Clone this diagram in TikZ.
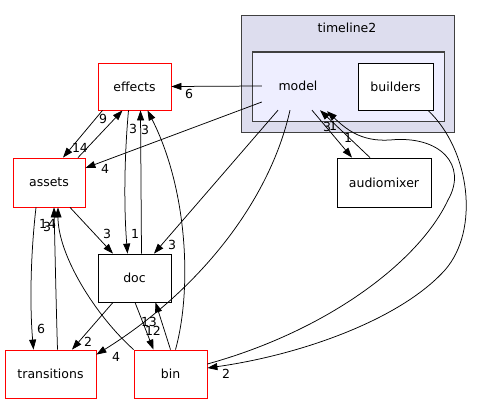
\documentclass[tikz,border=0pt]{standalone}
\usepackage{fontspec}
\setmainfont{DejaVu Sans}
\usetikzlibrary{arrows.meta}
\definecolor{clfill}{RGB}{221,221,238}
\definecolor{mdfill}{RGB}{238,238,255}
\definecolor{cldraw}{RGB}{64,64,64}
\begin{document}
\begin{tikzpicture}[x=1pt,y=-1pt,
  txt/.style={font=\fontsize{12.5}{14}\selectfont},
  box/.style={txt, draw=black, fill=white, line width=0.8pt, minimum width=73pt, minimum height=48pt, inner sep=0pt},
  redbox/.style={box, draw=red},
  cluster/.style={draw=cldraw, line width=1pt, inner sep=0pt},
  lbl/.style={txt, inner sep=0pt},
  edge/.style={line width=0.75pt, -{Triangle[length=10pt,width=7pt]}},
]
\useasboundingbox (0,0) rectangle (481,404);
% clusters
\node[cluster, fill=clfill, minimum width=213pt, minimum height=116pt] (tl2) at (347.5,74) {};
\node[txt, anchor=center] (tl2lbl) at (347,28) {timeline2};
\node[cluster, fill=mdfill, minimum width=192pt, minimum height=69pt] (modelc) at (348,86.5) {};
\node[txt, minimum width=72pt, minimum height=48pt, inner sep=0pt] (model) at (298,86) {model};
\node[box, minimum width=75pt, minimum height=47pt] (builders) at (395.5,86.5) {builders};
% nodes
\node[redbox, minimum height=47pt] (effects) at (134.5,86.5) {effects};
\node[redbox, minimum width=72pt, minimum height=49pt] (assets) at (49,182.5) {assets};
\node[box] (doc) at (134.5,278) {doc};
\node[redbox, minimum width=91pt] (transitions) at (50.5,374) {transitions};
\node[redbox] (bin) at (170.5,374) {bin};
\node[box, minimum width=94pt, minimum height=49pt] (audiomixer) at (384,182.5) {audiomixer};
% edges from model
\draw[edge] (model.west) -- (effects.east);
\draw[edge] ([yshift=-16pt]model.west) -- ([yshift=14.5pt]assets.east);
\draw[edge] ([xshift=-20pt]model.south) -- ([xshift=19.5pt]doc.north);
\draw[edge] ([xshift=-8pt]model.south) .. controls (270,200) and (200,290) .. ([yshift=-5pt]transitions.north east);
\draw[edge] ([xshift=14pt]model.south) -- ([xshift=-32pt]audiomixer.north);
\draw[edge] ([xshift=-14pt]audiomixer.north) -- ([xshift=22pt]model.south);
\draw[edge] ([yshift=10pt]bin.east) .. controls (330,330) and (420,260) .. (448,200)
   .. controls (468,165) and (440,135) .. (390,140)
   .. controls (360,142) and (345,128) .. ([xshift=29pt,yshift=-1pt]model.south);
\draw[edge] ([xshift=32.5pt]builders.south) .. controls (470,150) and (480,230) .. (445,270)
   .. controls (400,320) and (300,355) .. ([yshift=6pt]bin.east);
% effects / assets
\draw[edge] ([xshift=-32pt]effects.south) -- ([xshift=14pt]assets.north);
\draw[edge] ([xshift=29pt]assets.north) -- ([xshift=-12pt]effects.south);
\draw[edge] ([xshift=-6pt]effects.south) .. controls (124,160) and (124,210) .. ([xshift=-7pt]doc.north);
\draw[edge] ([xshift=7pt]doc.north) -- ([xshift=6pt]effects.south);
\draw[edge] ([xshift=5pt]bin.north) .. controls (192,290) and (188,190) .. ([xshift=13pt]effects.south);
\draw[edge] ([xshift=21pt]assets.south) -- ([xshift=-21.5pt]doc.north);
\draw[edge] ([xshift=-13pt]assets.south) .. controls (30,260) and (30,310) .. ([xshift=-17pt]transitions.north);
\draw[edge] ([xshift=7pt]transitions.north) .. controls (56,300) and (55,250) .. ([xshift=5pt]assets.south);
\draw[edge] (bin.north west) .. controls (95,315) and (58,255) .. ([xshift=9pt]assets.south);
\draw[edge] ([xshift=-21.5pt]doc.south) -- ([xshift=21.5pt]transitions.north);
\draw[edge] ([xshift=0.5pt]doc.south) -- ([xshift=-17pt]bin.north);
\draw[edge] (bin.north) -- ([xshift=21pt]doc.south);
% labels
\node[lbl] (l1) at (189,94) {6};
\node[lbl] (l2) at (105,169) {4};
\node[lbl] (l3) at (172,245) {3};
\node[lbl] (l4) at (116,357) {4};
\node[lbl] (l5) at (348,138) {1};
\node[lbl] (l6) at (327,127) {3};
\node[lbl] (l7) at (333,126) {1};
\node[lbl] (l8) at (226,374) {2};
\node[lbl] (l9) at (80,148) {14};
\node[lbl] (l10) at (103,119) {9};
\node[lbl] (l11) at (133,129) {3};
\node[lbl] (l12) at (145,130) {3};
\node[lbl] (l13) at (135,234) {1};
\node[lbl] (l14) at (107,234) {3};
\node[lbl] (l15) at (41,329) {6};
\node[lbl] (l16) at (43,224) {1};
\node[lbl] (l17) at (47,227) {3};
\node[lbl] (l18) at (52,224) {4};
\node[lbl] (l19) at (149,322) {13};
\node[lbl] (l20) at (153,331) {12};
\node[lbl] (l21) at (88,342) {2};
\end{tikzpicture}
\end{document}
